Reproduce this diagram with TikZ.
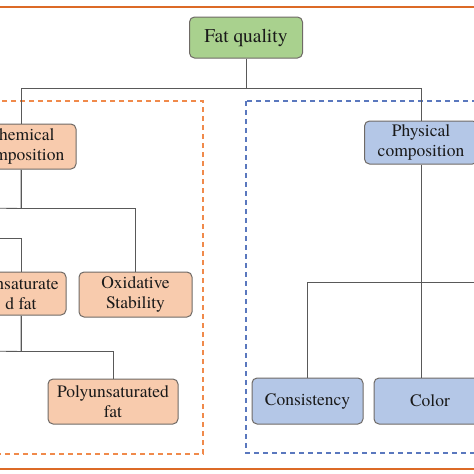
\documentclass[tikz,border=0pt]{standalone}
\usepackage{fontspec}
\setmainfont{TeX Gyre Termes}
\usepackage{tikz}
\usetikzlibrary{positioning,calc}
\definecolor{fqgreen}{HTML}{A9D18E}
\definecolor{fqpeach}{HTML}{F8CBAD}
\definecolor{fqblue}{HTML}{B4C7E7}
\definecolor{fqedge}{HTML}{6F6A66}
\definecolor{fqline}{HTML}{595959}
\definecolor{fqtext}{HTML}{1A1A1A}
\definecolor{fqrule}{HTML}{DC6A26}
\definecolor{fqdashor}{HTML}{F08A4B}
\definecolor{fqdashbl}{HTML}{5A78BE}

\begin{document}
\begin{tikzpicture}[x=1pt,y=-1pt,line cap=butt,
  box/.style={draw=fqedge,line width=1pt,rounded corners=5pt,align=center,
    inner sep=0pt,text=fqtext,font=\fontsize{17.5}{20}\selectfont},
  topbox/.style={box,fill=fqgreen,font=\fontsize{19.5}{22}\selectfont},
  chembox/.style={box,fill=fqpeach},
  physbox/.style={box,fill=fqblue},
  link/.style={draw=fqline,line width=0.9pt},
  group/.style={line width=1.1pt,dash pattern=on 5pt off 4pt}]
\useasboundingbox (0,0) rectangle (474,474);
\clip (0,0) rectangle (474,474);
%% top and bottom rules
\draw[fqrule,line width=2pt] (-5,7) -- (480,7);
\draw[fqrule,line width=2pt] (-5,469) -- (480,469);
%% dashed groups
\draw[group,fqdashor] (-20,101) rectangle (203,454);
\draw[group,fqdashbl] (246,101) rectangle (500,453);
%% nodes
\node[topbox,minimum width=113,minimum height=41] (fat) at (246,37.5) {Fat quality};
\node[chembox,minimum width=110,minimum height=45] (chem) at (21,146.5) {Chemical\\composition};
\node[physbox,minimum width=113,minimum height=43] (phys) at (421,142.5) {Physical\\composition};
\node[chembox,minimum width=90,minimum height=43] (unsat) at (21,293.5) {Unsaturate\\d fat};
\node[chembox,minimum width=113,minimum height=45] (oxid) at (135.5,294.5) {Oxidative\\Stability};
\node[chembox,minimum width=130,minimum height=45] (poly) at (113,401.5) {Polyunsaturated\\fat};
\node[physbox,minimum width=111,minimum height=46] (cons) at (307.5,401) {Consistency};
\node[physbox,minimum width=112,minimum height=46] (color) at (430,401) {Color};
%% off-picture ends
\coordinate (chemleft) at (-15,208);
\coordinate (unsatleft) at (-15,351);
\coordinate (physright) at (490,282);
%% connectors
\draw[link] (fat.south) -- ++(0,30) -| (chem.north);
\draw[link] (fat.south) -- ++(0,30) -| (phys.north);
\draw[link] (chem.south) -- ++(0,39) -| (oxid.north);
\draw[link] (chem.south) -- ++(0,39) -- (chemleft);
\draw[link] (chemleft) -- ++(0,30) -| (unsat.north);
\draw[link] (unsat.south) -- ++(0,36) -| (poly.north);
\draw[link] (unsat.south) -- ++(0,36) -- (unsatleft);
\draw[link] (phys.south) -- (phys.south |- color.north);
\draw[link] (cons.north) |- (physright);
\end{tikzpicture}
\end{document}
